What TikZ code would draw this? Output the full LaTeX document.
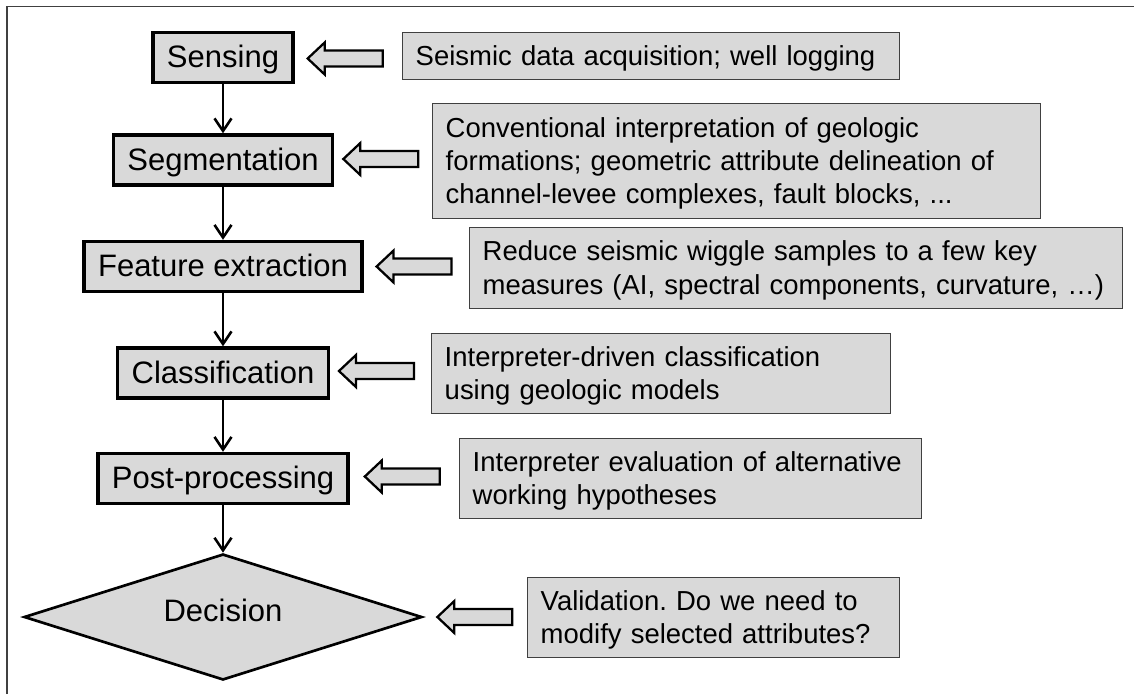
\documentclass[tikz,border=0pt]{standalone}
\usepackage{fontspec}
\setmainfont{Liberation Sans}
\usetikzlibrary{arrows.meta,shapes.geometric,calc}
\definecolor{panel}{HTML}{D9D9D9}
\frenchspacing
% one unbreakable line of a note, with a fixed-height strut
\newcommand{\noteline}[1]{\mbox{\rule[-5.5pt]{0pt}{25pt}#1}}

\begin{document}
\begin{tikzpicture}[x=0.75pt,y=-0.75pt,
  stepbox/.style={draw=black, line width=2.5pt, fill=panel,
    font=\fontsize{23.25pt}{28pt}\selectfont, text height=17pt, text depth=2pt,
    inner xsep=10.5pt, inner ysep=0pt, minimum height=37.5pt},
  decision/.style={diamond, draw=black, line width=2pt, fill=panel, aspect=3.16,
    minimum width=298.5pt, minimum height=94.5pt, inner sep=0pt,
    font=\fontsize{23.25pt}{28pt}\selectfont, text height=17pt, text depth=10pt},
  notebox/.style={draw=black!75, line width=1.1pt, fill=panel, anchor=north west,
    font=\fontsize{20.6pt}{25pt}\selectfont, align=left,
    inner xsep=9.75pt, inner ysep=0pt},
  flow/.style={-{Straight Barb[length=9.5pt,width=12.75pt]}, line width=1.9pt},
  frame/.style={draw=black!75, line width=1pt},
  pics/feed/.style={code={
    \draw[line width=1.7pt, fill=panel, line join=miter]
      (0,0) -- (17,-16) -- (17,-8) -- (75,-8) -- (75,8) -- (17,8) -- (17,16) -- cycle;}}
]
\useasboundingbox (0,0) rectangle (1134,694);

% page frame (top and left edges)
\draw[frame] (7,694) -- (7,6.5) -- (1134,6.5);

% processing steps
\node[stepbox] (sense) at (223,57.5)  {Sensing};
\node[stepbox] (segm)  at (223,160)   {Segmentation};
\node[stepbox] (feat)  at (223,266.5) {Feature extraction};
\node[stepbox] (clas)  at (223,373)   {Classification};
\node[stepbox] (post)  at (223,478.5) {Post-processing};
\node[decision] (deci) at (223,617)   {Decision};

\draw[flow] (sense) -- (segm);
\draw[flow] (segm)  -- (feat);
\draw[flow] (feat)  -- (clas);
\draw[flow] (clas)  -- (post);
\draw[flow] (post)  -- (deci);

% explanatory notes
\node[notebox, text width=353.25pt, minimum height=35.25pt] (n1) at (402,32)
  {\noteline{Seismic data acquisition; well logging}};
\node[notebox, text width=436.5pt, minimum height=86.25pt] (n2) at (432,103)
  {\noteline{Conventional interpretation of geologic}\\
   \noteline{formations; geometric attribute delineation of}\\
   \noteline{channel-levee complexes, fault blocks, ...}};
\node[notebox, text width=470.25pt, minimum height=60.75pt] (n3) at (469,227)
  {\noteline{Reduce seismic wiggle samples to a few key}\\
   \noteline{measures (AI, spectral components, curvature, …)}};
\node[notebox, text width=324.75pt, minimum height=60pt] (n4) at (431,333)
  {\noteline{Interpreter-driven classification}\\
   \noteline{using geologic models}};
\node[notebox, text width=327pt, minimum height=60pt] (n5) at (459,438)
  {\noteline{Interpreter evaluation of alternative}\\
   \noteline{working hypotheses}};
\node[notebox, text width=259.5pt, minimum height=60pt] (n6) at (527,577)
  {\noteline{Validation. Do we need to}\\
   \noteline{modify selected attributes?}};

% hollow arrows feeding each step
\pic at ($(sense.east)+(13,1)$)  {feed};
\pic at ($(segm.east)+(9,-1)$)   {feed};
\pic at ($(feat.east)+(13,0)$)   {feed};
\pic at ($(clas.east)+(9,-2)$)   {feed};
\pic at ($(post.east)+(15,-2)$)  {feed};
\pic at ($(deci.east)+(14,0)$)   {feed};
\end{tikzpicture}
\end{document}
